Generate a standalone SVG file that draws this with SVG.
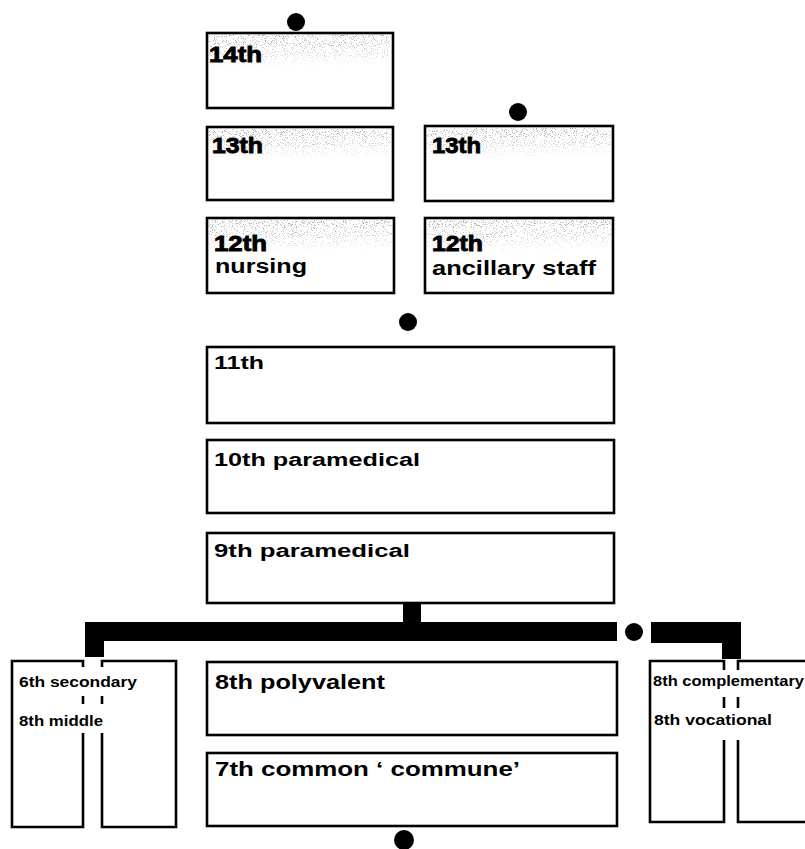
<svg xmlns="http://www.w3.org/2000/svg" width="805" height="849" viewBox="0 0 805 849">
<style>
.box{fill:#fff;stroke:#000;stroke-width:2.6}
.edge{fill:none;stroke:#000;stroke-width:2.6}
.t{font-family:"Liberation Sans",Arial,sans-serif;font-weight:bold;fill:#000}
.heavy{stroke:#000;stroke-width:0.9}
.s14{font-size:14px}
.s18{font-size:18px}
.s20{font-size:20px}
.s22{font-size:22px}
.shade{fill:url(#fade);filter:url(#speck)}
.bar{fill:#000}
.dot{fill:#000}
</style>
<defs>
<linearGradient id="fade" x1="0" y1="0" x2="0.12" y2="1">
<stop offset="0" stop-color="#000" stop-opacity="0.85"/>
<stop offset="0.6" stop-color="#000" stop-opacity="0.45"/>
<stop offset="1" stop-color="#000" stop-opacity="0"/>
</linearGradient>
<filter id="speck" x="0" y="0" width="1" height="1">
<feTurbulence type="fractalNoise" baseFrequency="0.9" numOctaves="2" seed="7" result="n"/>
<feColorMatrix in="n" type="matrix" values="0 0 0 0 0.3  0 0 0 0 0.3  0 0 0 0 0.3  -7 0 0 0 3.1" result="d"/>
<feComposite in="d" in2="SourceAlpha" operator="in"/>
</filter>
</defs>
<rect width="805" height="849" fill="#fff"/>

<g id="connectors">
<polygon class="bar" points="85,622 617,622 617,641 104,641 104,657 85,657"/>
<polygon class="bar" points="651,622 741,622 741,659 722,659 722,643 651,643"/>
<rect class="bar" x="403" y="602" width="18" height="21"/>
</g>

<g id="dots">
<circle class="dot" cx="296" cy="22" r="9"/>
<circle class="dot" cx="518" cy="112" r="9"/>
<circle class="dot" cx="408" cy="322" r="9"/>
<circle class="dot" cx="634" cy="632" r="9"/>
<circle class="dot" cx="404" cy="840" r="10"/>
</g>

<g id="n14">
<rect class="box" x="207" y="33" width="186" height="75"/>
<rect class="shade" x="209" y="35" width="182" height="34"/>
<text class="t s22 heavy" x="209" y="62" textLength="53" lengthAdjust="spacingAndGlyphs">14th</text>
</g>
<g id="n13a">
<rect class="box" x="207" y="127" width="186" height="73"/>
<rect class="shade" x="209" y="129" width="182" height="32"/>
<text class="t s22 heavy" x="212" y="153" textLength="51" lengthAdjust="spacingAndGlyphs">13th</text>
</g>
<g id="n13b">
<rect class="box" x="425" y="126" width="188" height="75"/>
<rect class="shade" x="427" y="128" width="184" height="32"/>
<text class="t s22 heavy" x="432" y="153" textLength="49" lengthAdjust="spacingAndGlyphs">13th</text>
</g>
<g id="n12a">
<rect class="box" x="207" y="218" width="187" height="75"/>
<rect class="shade" x="209" y="220" width="183" height="34"/>
<text class="t s22 heavy" x="214" y="251" textLength="53" lengthAdjust="spacingAndGlyphs">12th</text>
<text class="t s20" x="215" y="273" textLength="92" lengthAdjust="spacingAndGlyphs">nursing</text>
</g>
<g id="n12b">
<rect class="box" x="425" y="218" width="188" height="75"/>
<rect class="shade" x="427" y="220" width="184" height="34"/>
<text class="t s22 heavy" x="432" y="251" textLength="51" lengthAdjust="spacingAndGlyphs">12th</text>
<text class="t s20" x="432" y="275" textLength="164" lengthAdjust="spacingAndGlyphs">ancillary staff</text>
</g>

<g id="n11">
<rect class="box" x="207" y="347" width="407" height="76"/>
<text class="t s18" x="214" y="369" textLength="50" lengthAdjust="spacingAndGlyphs">11th</text>
</g>
<g id="n10">
<rect class="box" x="207" y="440" width="407" height="73"/>
<text class="t s18" x="214" y="466" textLength="206" lengthAdjust="spacingAndGlyphs">10th paramedical</text>
</g>
<g id="n9">
<rect class="box" x="207" y="533" width="407" height="70"/>
<text class="t s18" x="214" y="557" textLength="196" lengthAdjust="spacingAndGlyphs">9th paramedical</text>
</g>

<g id="n8">
<rect class="box" x="207" y="662" width="410" height="73"/>
<text class="t s20" x="215" y="689" textLength="170" lengthAdjust="spacingAndGlyphs">8th polyvalent</text>
</g>
<g id="n7">
<rect class="box" x="207" y="753" width="410" height="73"/>
<text class="t s20" x="215" y="776" textLength="305" lengthAdjust="spacingAndGlyphs">7th common ‘ commune’</text>
</g>

<g id="nleft">
<path class="edge" d="M83,667 V661 H12 V827 H83 V733 M83,696 V704 M102,667 V661 H176 V827 H102 V733 M102,696 V704"/>
<text class="t s14" x="19" y="687" textLength="118" lengthAdjust="spacingAndGlyphs">6th secondary</text>
<text class="t s14" x="19" y="726" textLength="84" lengthAdjust="spacingAndGlyphs">8th middle</text>
</g>
<g id="nright">
<path class="edge" d="M724,670 V661 H650 V822 H724 V740 M724,697 V708 M738,670 V661 H808 M808,822 H738 V740 M738,697 V708"/>
<text class="t s14" x="653" y="686" textLength="151" lengthAdjust="spacingAndGlyphs">8th complementary</text>
<text class="t s14" x="654" y="725" textLength="118" lengthAdjust="spacingAndGlyphs">8th vocational</text>
</g>
</svg>
